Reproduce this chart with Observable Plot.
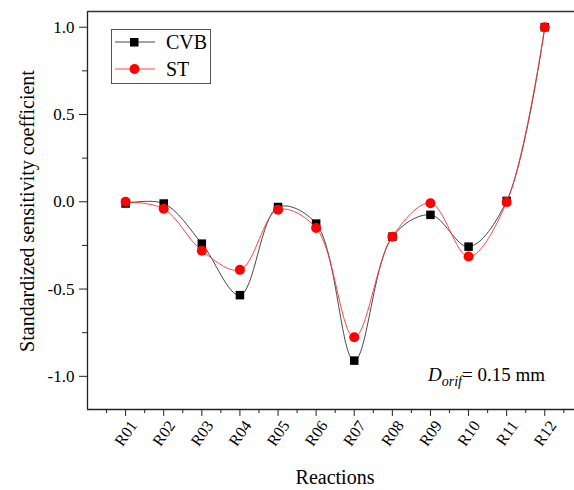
<!DOCTYPE html>
<html>
<head>
<meta charset="utf-8">
<script src="https://cdn.jsdelivr.net/npm/d3@7"></script>
<script src="https://cdn.jsdelivr.net/npm/@observablehq/plot@0.6"></script>
<style>
  html, body { margin: 0; padding: 0; background: white; }
  #chart svg { display: block; }
</style>
</head>
<body>
<div id="chart"></div>
<script>
const reactions = ["R01","R02","R03","R04","R05","R06","R07","R08","R09","R10","R11","R12"];
const cvb = [-0.01, -0.01, -0.24, -0.535, -0.03, -0.125, -0.91, -0.20, -0.075, -0.257, 0.005, 1.0];
const st  = [0.0, -0.04, -0.28, -0.39, -0.045, -0.15, -0.776, -0.20, -0.008, -0.314, -0.002, 1.0];
const yMajor = [-1.0, -0.5, 0.0, 0.5, 1.0];
const yMinor = [-0.75, -0.25, 0.25, 0.75];

const cvbData = reactions.map((r, k) => ({i: k + 1, r, v: cvb[k]}));
const stData = reactions.map((r, k) => ({i: k + 1, r, v: st[k]}));

const font = "Liberation Serif";
const x0 = 0, x1 = 12.78, y0 = -1.19, y1 = 1.09;

const chart = Plot.plot({
  width: 574,
  height: 490,
  marginLeft: 87,
  marginRight: 0,
  marginTop: 11,
  marginBottom: 81,
  x: {domain: [x0, x1]},
  y: {domain: [y0, y1]},
  style: {fontFamily: font, background: "white", color: "#000"},
  marks: [
    Plot.axisY({ticks: yMajor, tickSize: 8, tickPadding: 5, fontSize: 17, fontFamily: font,
      tickFormat: d => (d < 0 ? "-" : "") + Math.abs(d).toFixed(1), label: null, stroke: "#222"}),
    Plot.axisY({ticks: yMinor, tickSize: 5, tickFormat: () => "", label: null, stroke: "#222"}),
    Plot.axisX({ticks: d3.range(1, 13), tickSize: 7, tickFormat: () => "", label: null, stroke: "#222"}),
    Plot.axisX({ticks: d3.range(1, 13), tickSize: 0, tickPadding: 13, tickRotate: -55, fontSize: 16, fontFamily: font,
      dx: 8, tickFormat: i => reactions[i - 1], label: null}),
    Plot.axisX({ticks: d3.range(0.5, 13, 1), tickSize: 4, tickFormat: () => "", label: null, stroke: "#222"}),
    Plot.ruleX([x0], {stroke: "#222", strokeWidth: 1.3}),
    Plot.ruleY([y0], {stroke: "#222", strokeWidth: 1.3}),
    Plot.ruleY([y1], {stroke: "#333", strokeWidth: 1.3}),
    Plot.line(cvbData, {x: "i", y: "v", curve: "catmull-rom", stroke: "#333", strokeWidth: 0.9}),
    Plot.dot(cvbData, {x: "i", y: "v", symbol: "square", r: 4.8, fill: "#000", stroke: "none"}),
    Plot.line(stData, {x: "i", y: "v", curve: "catmull-rom", stroke: "#ff3030", strokeWidth: 0.9}),
    Plot.dot(stData, {x: "i", y: "v", symbol: "circle", r: 5, fill: "#ff0000", stroke: "none"})
  ]
});

const svg = d3.select(chart);
// axis titles
svg.append("text")
  .attr("transform", "translate(34,211) rotate(-90)")
  .attr("text-anchor", "middle")
  .style("font-family", font).style("font-size", "20px")
  .text("Standardized sensitivity coefficient");
svg.append("text")
  .attr("x", 335).attr("y", 484)
  .attr("text-anchor", "middle")
  .style("font-family", font).style("font-size", "20px")
  .text("Reactions");

// legend
const lg = svg.append("g").attr("text-anchor", "start");
lg.append("rect").attr("x", 111.5).attr("y", 29.5).attr("width", 99).attr("height", 54)
  .attr("fill", "white").attr("stroke", "#555").attr("stroke-width", 1);
lg.append("line").attr("x1", 115).attr("x2", 155).attr("y1", 42).attr("y2", 42).attr("stroke", "#333").attr("stroke-width", 0.9);
lg.append("rect").attr("x", 130).attr("y", 38).attr("width", 8.5).attr("height", 8.5).attr("fill", "#000");
lg.append("text").attr("x", 166).attr("y", 49).style("font-family", font).style("font-size", "20px").text("CVB");
lg.append("line").attr("x1", 115).attr("x2", 155).attr("y1", 69).attr("y2", 69).attr("stroke", "#ff3030").attr("stroke-width", 0.9);
lg.append("circle").attr("cx", 134.5).attr("cy", 69).attr("r", 5).attr("fill", "#ff0000");
lg.append("text").attr("x", 166).attr("y", 76).style("font-family", font).style("font-size", "20px").text("ST");

// annotation
const ann = svg.append("text").attr("x", 428).attr("y", 381).attr("text-anchor", "start")
  .style("font-family", font).style("font-size", "19px");
ann.append("tspan").style("font-style", "italic").text("D");
ann.append("tspan").style("font-style", "italic").style("font-size", "14px").attr("dy", 5).text("orif");
ann.append("tspan").attr("dy", -5).text("= 0.15 mm");

document.getElementById("chart").appendChild(chart);
</script>
</body>
</html>
